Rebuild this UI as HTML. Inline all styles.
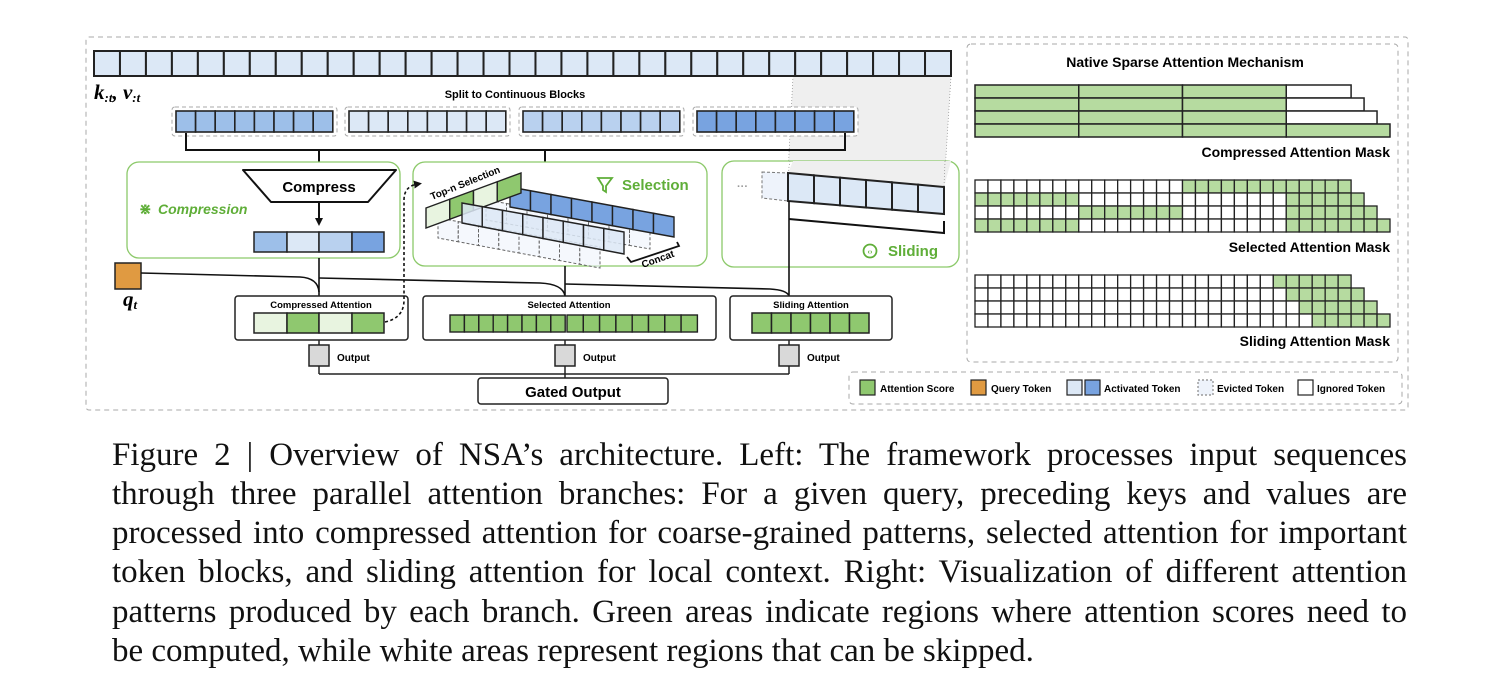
<!DOCTYPE html>
<html><head><meta charset="utf-8">
<style>
html,body{margin:0;padding:0;background:#fff;width:1490px;height:694px;overflow:hidden}
svg{position:absolute;left:0;top:0}
.cap{position:absolute;left:112px;width:1295px;font-family:"Liberation Serif",serif;font-size:33px;color:#111;white-space:nowrap;text-align:justify;text-align-last:justify;line-height:39px;height:39px}
.cap.last{text-align:left;text-align-last:left}
</style></head><body>
<svg id="s" width="1490" height="694" viewBox="0 0 1490 694" font-family="Liberation Sans, sans-serif" font-weight="bold">
<defs>
<marker id="ar" markerWidth="8" markerHeight="8" refX="4" refY="4" orient="auto" markerUnits="userSpaceOnUse"><path d="M0,0 L8,4 L0,8 Z" fill="#111"/></marker>
</defs>
<rect x="86" y="37" width="1322" height="373" fill="none" stroke="#aaa" stroke-dasharray="5,4" rx="3"/>
<rect x="967" y="44" width="431" height="318" fill="none" stroke="#aaa" stroke-dasharray="5,4" rx="4"/>
<rect x="849" y="372" width="553" height="32" fill="none" stroke="#aaa" stroke-dasharray="5,4" rx="4"/>
<polygon points="793,76 951,76 944,187 788,173" fill="#efefef"/>
<line x1="793" y1="76" x2="788" y2="173" stroke="#999" stroke-dasharray="1,2" stroke-width="0.8"/>
<line x1="951" y1="76" x2="944" y2="187" stroke="#999" stroke-dasharray="1,2" stroke-width="0.8"/>
<g id="top"></g>
<text x="94" y="99" font-family="Liberation Serif, serif" font-style="italic" font-size="21">k<tspan font-size="13" dy="3">:t</tspan><tspan dy="-3">, v</tspan><tspan font-size="13" dy="3">:t</tspan></text>
<text x="515" y="98" font-size="11" text-anchor="middle">Split to Continuous Blocks</text>
<g id="blocks"></g>
<polyline points="186,133 186,150 845,150 845,133" fill="none" stroke="#111" stroke-width="2"/>
<line x1="319" y1="150" x2="319" y2="170" stroke="#111" stroke-width="2"/>
<line x1="545" y1="150" x2="545" y2="166" stroke="#111" stroke-width="2" marker-end="url(#ar)"/>
<rect x="127" y="162" width="273" height="96" rx="12" fill="#fff" stroke="#8cc96a" stroke-width="1.3"/>
<polygon points="243,170 396,170 368,202 271,202" fill="#fff" stroke="#111" stroke-width="2" stroke-linejoin="round"/>
<text x="319" y="192" font-size="15" text-anchor="middle">Compress</text>
<line x1="319" y1="202" x2="319" y2="222" stroke="#111" stroke-width="2" marker-end="url(#ar)"/>
<text x="139" y="214" font-size="15" fill="#5fae38">⋇</text>
<text x="158" y="214" font-size="14" fill="#5fae38" font-style="italic">Compression</text>
<g stroke="#222" stroke-width="1.5">
<rect x="254" y="232" width="33" height="20" fill="#9dbfe9"/><rect x="287" y="232" width="32" height="20" fill="#dce8f6"/><rect x="319" y="232" width="33" height="20" fill="#b9d1ef"/><rect x="352" y="232" width="32" height="20" fill="#78a3e0"/>
</g>
<rect x="413" y="162" width="294" height="104" rx="12" fill="#fff" stroke="#8cc96a" stroke-width="1.3"/>
<g id="sel"></g>
<path d="M598,178 L612,178 L606,186 L606,192 L603,190 L603,186 Z" fill="none" stroke="#5fae38" stroke-width="1.8"/>
<text x="622" y="190" font-size="15" fill="#5fae38">Selection</text>
<rect x="722" y="161" width="237" height="106" rx="12" fill="#fff" stroke="#8cc96a" stroke-width="1.3"/>
<polygon points="793,161 951,161 944,187 788,173" fill="#efefef"/>
<line x1="790" y1="161" x2="788" y2="173" stroke="#999" stroke-dasharray="1,2" stroke-width="0.8"/>
<line x1="945" y1="161" x2="944" y2="187" stroke="#999" stroke-dasharray="1,2" stroke-width="0.8"/>
<text x="737" y="190" font-size="11" fill="#999">···</text>
<polygon points="762,172 788,173 788,201 762,198" fill="#eef3fb" stroke="#777" stroke-dasharray="3,2"/>
<g id="slide"></g>
<polyline points="789,219 944,233 944,221" fill="none" stroke="#111" stroke-width="2"/>
<circle cx="870" cy="251" r="6.5" fill="none" stroke="#5fae38" stroke-width="1.8"/>
<text x="870" y="254" font-size="7" fill="#5fae38" text-anchor="middle">‹›</text>
<text x="888" y="256" font-size="15" fill="#5fae38">Sliding</text>
<rect x="115" y="263" width="26" height="26" fill="#e09a41" stroke="#222" stroke-width="1.5"/>
<text x="123" y="306" font-family="Liberation Serif, serif" font-style="italic" font-size="21">q<tspan font-size="13" dy="3">t</tspan></text>
<path d="M141,273 L300,277 Q318,278 319,292 M319,278 L540,283 Q563,284 565,296 M565,284 L770,289 Q787,290 789,296" fill="none" stroke="#111" stroke-width="1.6"/>
<line x1="319" y1="258" x2="319" y2="296" stroke="#111" stroke-width="1.6"/>
<line x1="565" y1="266" x2="565" y2="296" stroke="#111" stroke-width="1.6"/>
<line x1="789" y1="201" x2="789" y2="296" stroke="#111" stroke-width="1.6"/>
<rect x="235" y="296" width="173" height="44" rx="3" fill="#fff" stroke="#222" stroke-width="1.5"/>
<text x="321" y="308" font-size="9.5" text-anchor="middle">Compressed Attention</text>
<g stroke="#222" stroke-width="1.5">
<rect x="254" y="313" width="33" height="20" fill="#e8f4e0"/><rect x="287" y="313" width="32" height="20" fill="#8fc86f"/><rect x="319" y="313" width="33" height="20" fill="#e8f4e0"/><rect x="352" y="313" width="32" height="20" fill="#8fc86f"/>
</g>
<path d="M385,322 Q404,318 404,300 L404,200 Q404,186 418,184" fill="none" stroke="#111" stroke-width="1.6" stroke-dasharray="3,2.5" marker-end="url(#ar)"/>
<rect x="423" y="296" width="293" height="44" rx="3" fill="#fff" stroke="#222" stroke-width="1.5"/>
<text x="569" y="308" font-size="9.5" text-anchor="middle">Selected Attention</text>
<rect x="730" y="296" width="162" height="44" rx="3" fill="#fff" stroke="#222" stroke-width="1.5"/>
<text x="811" y="308" font-size="9.5" text-anchor="middle">Sliding Attention</text>
<g id="att"></g>
<g stroke="#222" stroke-width="1.5">
<line x1="319" y1="340" x2="319" y2="374"/><line x1="565" y1="340" x2="565" y2="378"/><line x1="789" y1="340" x2="789" y2="374"/>
<polyline points="319,374 789,374" fill="none"/>
<rect x="309" y="345" width="20" height="21" fill="#d9d9d9"/><rect x="555" y="345" width="20" height="21" fill="#d9d9d9"/><rect x="779" y="345" width="20" height="21" fill="#d9d9d9"/>
</g>
<text x="337" y="361" font-size="10">Output</text>
<text x="583" y="361" font-size="10">Output</text>
<text x="807" y="361" font-size="10">Output</text>
<rect x="478" y="378" width="190" height="26" rx="3" fill="#fff" stroke="#222" stroke-width="1.5"/>
<text x="573" y="397" font-size="15" text-anchor="middle">Gated Output</text>
<text x="1185" y="67" font-size="14" text-anchor="middle">Native Sparse Attention Mechanism</text>
<g id="masks"></g>
<text x="1390" y="157" font-size="14" text-anchor="end">Compressed Attention Mask</text>
<text x="1390" y="252" font-size="14" text-anchor="end">Selected Attention Mask</text>
<text x="1390" y="346" font-size="14" text-anchor="end">Sliding Attention Mask</text>
<g stroke="#222" stroke-width="1.2">
<rect x="860" y="380" width="15" height="15" fill="#8fc86f"/>
<rect x="971" y="380" width="15" height="15" fill="#e09a41"/>
<rect x="1067" y="380" width="15" height="15" fill="#dce8f6"/>
<rect x="1085" y="380" width="15" height="15" fill="#78a3e0"/>
<rect x="1198" y="380" width="15" height="15" fill="#eef3fb" stroke="#888" stroke-dasharray="2,2"/>
<rect x="1298" y="380" width="15" height="15" fill="#fff"/>
</g>
<g font-size="10">
<text x="880" y="392">Attention Score</text>
<text x="991" y="392">Query Token</text>
<text x="1104" y="392">Activated Token</text>
<text x="1217" y="392">Evicted Token</text>
<text x="1317" y="392">Ignored Token</text>
</g>
</svg>
<div class="cap" style="top:436px">Figure 2 | Overview of NSA’s architecture. Left: The framework processes input sequences</div>
<div class="cap" style="top:475px">through three parallel attention branches: For a given query, preceding keys and values are</div>
<div class="cap" style="top:514px">processed into compressed attention for coarse-grained patterns, selected attention for important</div>
<div class="cap" style="top:553px">token blocks, and sliding attention for local context. Right: Visualization of different attention</div>
<div class="cap" style="top:593px">patterns produced by each branch. Green areas indicate regions where attention scores need to</div>
<div class="cap last" style="top:632px">be computed, while white areas represent regions that can be skipped.</div>
<script>
var NS="http://www.w3.org/2000/svg";
function R(g,x,y,w,h,f,extra){var r=document.createElementNS(NS,"rect");r.setAttribute("x",x);r.setAttribute("y",y);r.setAttribute("width",w);r.setAttribute("height",h);r.setAttribute("fill",f);r.setAttribute("stroke",(extra&&extra.s)||"#222");r.setAttribute("stroke-width",(extra&&extra.w)||1.5);if(extra&&extra.d)r.setAttribute("stroke-dasharray",extra.d);if(extra&&extra.rx)r.setAttribute("rx",extra.rx);document.getElementById(g).appendChild(r);}
function P(g,pts,f,extra){var p=document.createElementNS(NS,"polygon");p.setAttribute("points",pts);p.setAttribute("fill",f);p.setAttribute("stroke",(extra&&extra.s)||"#222");p.setAttribute("stroke-width",(extra&&extra.w)||1.4);if(extra&&extra.d)p.setAttribute("stroke-dasharray",extra.d);if(extra&&extra.o)p.setAttribute("fill-opacity",extra.o);document.getElementById(g).appendChild(p);}
function T(g,x,y,txt,fs,rot){var t=document.createElementNS(NS,"text");t.setAttribute("x",x);t.setAttribute("y",y);t.setAttribute("font-size",fs);if(rot)t.setAttribute("transform","rotate("+rot+" "+x+" "+y+")");t.textContent=txt;document.getElementById(g).appendChild(t);}
var w=(951-94)/33;
for(var i=0;i<33;i++)R("top",94+i*w,51,w,25,"#dce8f6",{w:2});
var bx=[176,349,523,697],bc=["#9dbfe9","#dce8f6","#b9d1ef","#78a3e0"];
for(var b=0;b<4;b++){R("blocks",bx[b]-4,107,165,29,"#fff",{s:"#aaa",w:1,d:"4,3",rx:3});for(var i=0;i<8;i++)R("blocks",bx[b]+i*19.6,111,19.6,21,bc[b],{w:1.6});}
function strip(g,x0,y0t,y0b,x1,y1t,y1b,n,cols,ex){for(var i=0;i<n;i++){var a=i/n,c=(i+1)/n;var xa=x0+(x1-x0)*a,xc=x0+(x1-x0)*c;var ta=y0t+(y1t-y0t)*a,tc=y0t+(y1t-y0t)*c,ba=y0b+(y1b-y0b)*a,bb=y0b+(y1b-y0b)*c;P(g,xa+","+ta+" "+xc+","+tc+" "+xc+","+bb+" "+xa+","+ba,cols[i%cols.length],ex);}}
strip("sel",438,218,238,600,247,268,8,["#eef3fb"],{s:"#666",w:1,d:"3,2",o:0.6});
strip("sel",486,200,220,650,228,249,8,["#eef3fb"],{s:"#666",w:1,d:"3,2",o:0.6});
strip("sel",510,187,207,674,217,237,8,["#78a3e0"],{w:1.4});
strip("sel",426,208,228,521,173,193,4,["#e8f4e0","#8fc86f"],{w:1.4});
strip("sel",462,203,223,624,232,254,8,["#dce8f6"],{w:1.4,o:0.85});
var pl=document.createElementNS(NS,"polyline");pl.setAttribute("points","627,257 631,262 679,246 677,242");pl.setAttribute("fill","none");pl.setAttribute("stroke","#111");pl.setAttribute("stroke-width","1.8");document.getElementById("sel").appendChild(pl);
T("sel",432,200,"Top-n Selection",10,-22);
T("sel",643,268,"Concat",10,-20);
strip("slide",788,173,201,944,187,214,6,["#dce8f6"],{w:2});
for(var i=0;i<8;i++)R("att",450+i*14.4,315,14.4,17,"#8fc86f",{w:1.4});
for(var i=0;i<8;i++)R("att",567+i*16.3,315,16.3,17,"#8fc86f",{w:1.4});
for(var i=0;i<6;i++)R("att",752+i*19.5,313,19.5,20,"#8fc86f",{w:1.5});
var cw=415/32,rh=13,G="#b6dba0";
for(var r=0;r<4;r++){var y=85+r*rh;for(var b=0;b<3;b++)R("masks",975+b*8*cw,y,8*cw,rh,G);if(r<3)R("masks",975+24*cw,y,(5+r)*cw,rh,"#fff");else R("masks",975+24*cw,y,8*cw,rh,G);}
function inr(c,list){for(var k=0;k<list.length;k++)if(c>=list[k][0]&&c<=list[k][1])return true;return false;}
var sl=[[[16,28]],[[0,7],[24,29]],[[8,15],[24,30]],[[0,7],[24,31]]];
for(var r=0;r<4;r++)for(var c=0;c<=28+r;c++)R("masks",975+c*cw,180+r*rh,cw,rh,inr(c,sl[r])?G:"#fff",{w:1.3});
for(var r=0;r<4;r++)for(var c=0;c<=28+r;c++)R("masks",975+c*cw,275+r*rh,cw,rh,(c>=23+r&&c<=28+r)?G:"#fff",{w:1.3});
</script>
</body></html>
